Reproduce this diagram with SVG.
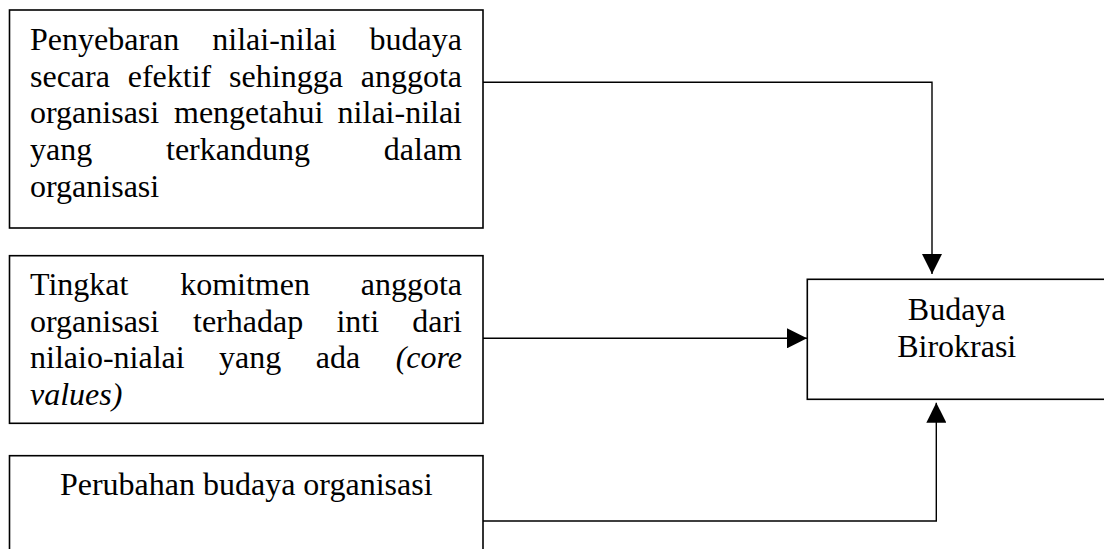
<svg xmlns="http://www.w3.org/2000/svg" width="1104" height="549" viewBox="0 0 1104 549">
<style>
.box{fill:#fff;stroke:#000;stroke-width:1.6}
.t{font-family:"Liberation Serif","Times New Roman",serif;font-size:32px;fill:#000}
.i{font-style:italic}
.c{fill:none;stroke:#000;stroke-width:1.4}
</style>
<defs>
<marker id="arr" viewBox="0 0 20 20" refX="20" refY="10" markerWidth="20" markerHeight="20" markerUnits="userSpaceOnUse" orient="auto">
<path d="M0,0 L20,10 L0,20 Z" fill="#000"/>
</marker>
</defs>
<g id="connectors">
<path class="c" d="M483,82.3 H932 V274" marker-end="url(#arr)"/>
<path class="c" d="M483,338.3 H807" marker-end="url(#arr)"/>
<path class="c" d="M483,521 H936.3 V402.7" marker-end="url(#arr)"/>
</g>
<g id="node1">
<rect class="box" x="9.5" y="10" width="473.5" height="218"/>
<text class="t" y="50"><tspan x="30">Penyebaran</tspan><tspan x="212.3">nilai-nilai</tspan><tspan x="462" text-anchor="end">budaya</tspan></text>
<text class="t" y="86.7"><tspan x="30">secara</tspan><tspan x="127.7">efektif</tspan><tspan x="229.1">sehingga</tspan><tspan x="462" text-anchor="end">anggota</tspan></text>
<text class="t" y="123.4"><tspan x="30">organisasi</tspan><tspan x="174">mengetahui</tspan><tspan x="462" text-anchor="end">nilai-nilai</tspan></text>
<text class="t" y="160.1"><tspan x="30">yang</tspan><tspan x="166">terkandung</tspan><tspan x="462" text-anchor="end">dalam</tspan></text>
<text class="t" x="30" y="196.8">organisasi</text>
</g>
<g id="node2">
<rect class="box" x="9.5" y="255.7" width="473.5" height="167.6"/>
<text class="t" y="295"><tspan x="30">Tingkat</tspan><tspan x="180.2">komitmen</tspan><tspan x="462" text-anchor="end">anggota</tspan></text>
<text class="t" y="331.7"><tspan x="30">organisasi</tspan><tspan x="193">terhadap</tspan><tspan x="336.4">inti</tspan><tspan x="462" text-anchor="end">dari</tspan></text>
<text class="t" y="368.4"><tspan x="30">nilaio-nialai</tspan><tspan x="219.1">yang</tspan><tspan x="315.7">ada</tspan><tspan class="i" x="462" text-anchor="end">(core</tspan></text>
<text class="t i" x="30" y="405.1">values)</text>
</g>
<g id="node3">
<rect class="box" x="9.5" y="455.7" width="473.5" height="120"/>
<text class="t" x="246.2" y="495" text-anchor="middle">Perubahan budaya organisasi</text>
</g>
<g id="node4">
<rect class="box" x="807.3" y="279.3" width="300" height="120"/>
<text class="t" x="956.7" y="320" text-anchor="middle">Budaya</text>
<text class="t" x="956.7" y="356.7" text-anchor="middle">Birokrasi</text>
</g>
</svg>
